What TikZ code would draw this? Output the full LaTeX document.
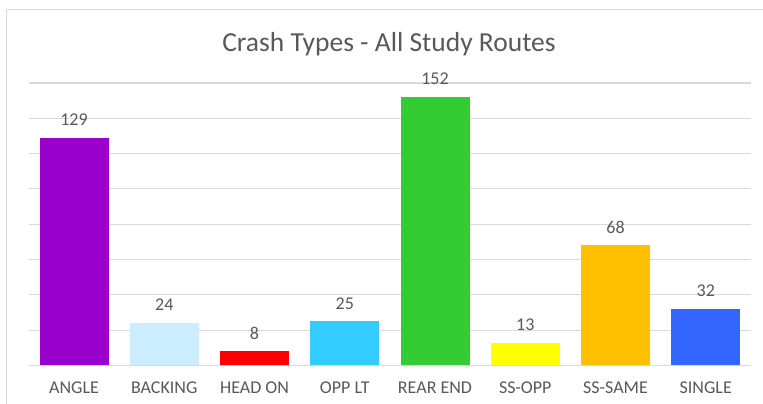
\documentclass[tikz,border=0pt]{standalone}
\usepackage{fontspec}
\setmainfont{Carlito}
\usetikzlibrary{calc}

\definecolor{txtgray}{HTML}{595959}
\definecolor{gridgray}{HTML}{D9D9D9}
\definecolor{cAngle}{HTML}{9900CC}
\definecolor{cBacking}{HTML}{CCECFF}
\definecolor{cHeadOn}{HTML}{FF0000}
\definecolor{cOppLt}{HTML}{33CCFF}
\definecolor{cRearEnd}{HTML}{33CC33}
\definecolor{cSsOpp}{HTML}{FFFF00}
\definecolor{cSsSame}{HTML}{FFC000}
\definecolor{cSingle}{HTML}{3366FF}

\begin{document}
\begin{tikzpicture}[x=1pt, y=-1pt, text=txtgray,
    font=\fontsize{18}{20}\selectfont,
    gridline/.style={gridgray, line width=1pt}]

  %% ---- canvas + chart frame ----
  \useasboundingbox (0,0) rectangle (763,404);
  \fill[white] (0,0) rectangle (763,404);
  \draw[gridline] (6,410) -- (6,10) -- (770,10);

  %% ---- gridlines (every 20) ----
  \foreach \k in {1,...,8}
    \draw[gridline] (29,{365.5-35.3125*\k}) -- (751,{365.5-35.3125*\k});

  %% ---- title ----
  \node[font=\fontsize{27.5}{30}\selectfont] (title) at (389,44)
    {Crash Types - All Study Routes};

  %% ---- bars, values and categories ----
  \foreach \val/\lab/\col [count=\i from 0] in
    {129/ANGLE/cAngle, 24/BACKING/cBacking, 8/HEAD ON/cHeadOn,
     25/OPP LT/cOppLt, 152/REAR END/cRearEnd, 13/SS-OPP/cSsOpp,
     68/SS-SAME/cSsSame, 32/SINGLE/cSingle} {
    \fill[\col] ({74+90.25*\i-34.5},365.5) rectangle
                ({74+90.25*\i+34.5},{365.5-1.7656*\val});
    \node (v\i) at ({74+90.25*\i},{365.5-1.7656*\val-18}) {\val};
    \node (c\i) at ({74+90.25*\i},388) {\lab};
  }

  %% ---- category axis ----
  \draw[gridline] (29,365.5) -- (751,365.5);

\end{tikzpicture}
\end{document}
